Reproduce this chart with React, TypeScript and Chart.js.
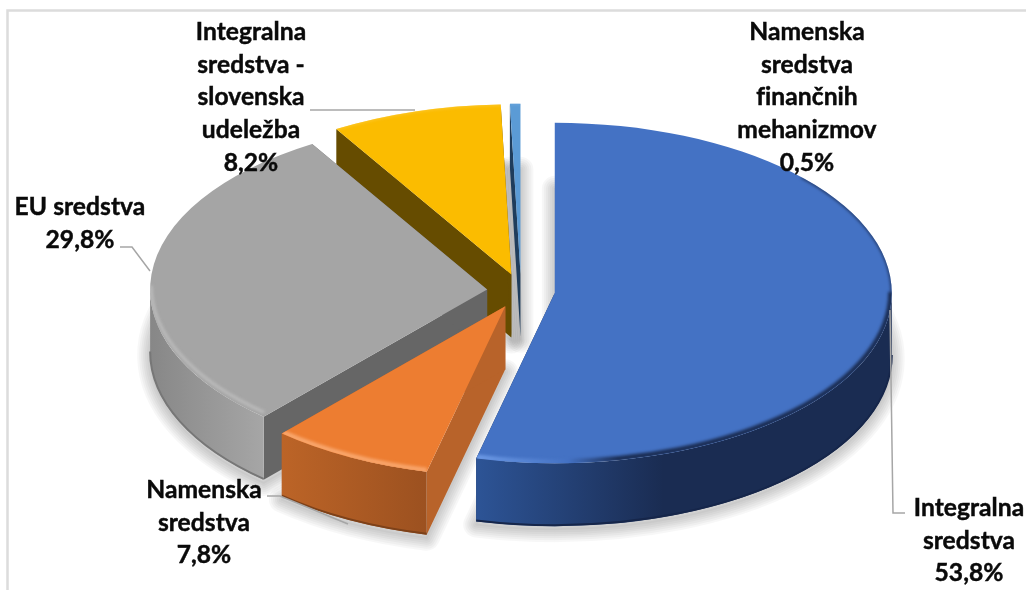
import React, { useEffect, useRef } from "react";
import { Chart, registerables } from "chart.js";

Chart.register(...registerables);

// ---- data ----
const categoryLines: string[][] = [
  ["Integralna", "sredstva"],
  ["Namenska", "sredstva"],
  ["EU sredstva"],
  ["Integralna", "sredstva -", "slovenska", "udeležba"],
  ["Namenska", "sredstva", "finančnih", "mehanizmov"],
];
const shares: number[] = [53.8, 7.8, 29.8, 8.2, 0.5];

// ---- styles ----
const topColors = ["#4472c4", "#ed7d31", "#a5a5a5", "#fbbc00", "#5b9bd5"];
const faceColors = ["#1a2c52", "#b8632a", "#666666", "#664c00", "#1f3d5c"];
const wallStops = [
  [[0, "#2d5496"], [0.45, "#1a2c52"], [1, "#1a2c52"]],
  [[0, "#bc6427"], [1, "#9c5120"]],
  [[0, "#878787"], [1, "#a6a6a6"]],
  [[0, "#664c00"], [1, "#664c00"]],
  [[0, "#1f3d5c"], [1, "#1f3d5c"]],
];
const rimStops = [
  [[0, "#6d9ae6"], [0.22, "#4472c4"], [0.34, "#1a2c52"], [1, "#1a2c52"]],
  [[0, "#f9a76d"], [1, "#f59a5e"]],
  [[0, "#bcbcbc"], [1, "#bcbcbc"]],
  [[0, "#fdc933"], [1, "#fdc933"]],
  [[0, "#6ba8df"], [1, "#6ba8df"]],
];
const bottomEdge = ["#16264a", "#7d4119", "#777777", "#664c00", "#1f3d5c"];

const TILT = 0.505;
const EXPLODE = 34;
const DEPTH = 63;
const RADIUS = 337;
const drawOrder = [4, 3, 2, 1, 0];
const shadowWidths = [26, 22, 18, 14, 10, 6, 2];

const labelFont = "bold 24.6px Lato";
const lineGap = 32.7;
const labelAnchors = [
  { x: 969, y: 508 },
  { x: 204, y: 490 },
  { x: 80, y: 207 },
  { x: 251, y: 32 },
  { x: 807, y: 32 },
];
const leaders: number[][][] = [
  [[890, 310], [893, 513], [905, 513]],
  [[267, 496], [280, 496], [348, 524]],
  [[120, 247], [132, 247], [150, 271]],
  [[310, 110], [415, 110]],
];

function gradient(ctx: CanvasRenderingContext2D, x0: number, x1: number, stops: any[]) {
  const g = ctx.createLinearGradient(x0, 0, x1, 0);
  stops.forEach(([o, c]) => g.addColorStop(o, c));
  return g;
}

const pie3d = {
  id: "pie3d",
  beforeDraw(chart: any) {
    const ctx: CanvasRenderingContext2D = chart.ctx;
    ctx.save();
    ctx.fillStyle = "#ffffff";
    ctx.fillRect(0, 0, chart.width, chart.height);
    ctx.strokeStyle = "#dcdcdc";
    ctx.lineWidth = 2.5;
    ctx.beginPath();
    ctx.moveTo(7.5, chart.height);
    ctx.lineTo(7.5, 10.5);
    ctx.lineTo(chart.width, 10.5);
    ctx.stroke();
    ctx.restore();
  },
  beforeDatasetsDraw(chart: any) {
    const ctx: CanvasRenderingContext2D = chart.ctx;
    const arcs = chart.getDatasetMeta(0).data;
    const geo = arcs.map((arc: any) => {
      const p = arc.getProps(["x", "y", "startAngle", "endAngle", "outerRadius"], true);
      const mid = (p.startAngle + p.endAngle) / 2;
      return {
        ...p,
        cx: p.x + Math.cos(mid) * EXPLODE,
        cy: p.y + Math.sin(mid) * EXPLODE * TILT,
        dx: Math.cos(mid) * EXPLODE,
        dy: Math.sin(mid) * EXPLODE,
        r: p.outerRadius,
      };
    });
    const sector = (g: any, shift: number) => {
      ctx.beginPath();
      ctx.moveTo(g.cx, g.cy + shift);
      ctx.ellipse(g.cx, g.cy + shift, g.r, g.r * TILT, 0, g.startAngle, g.endAngle);
      ctx.closePath();
    };
    const frontRange = (g: any): number[] | null => {
      const a0 = Math.max(g.startAngle, 0);
      const a1 = Math.min(g.endAngle, Math.PI);
      return a1 > a0 ? [a0, a1] : null;
    };
    // soft shadow cast by the underside of each slice, built from widening translucent outlines
    ctx.save();
    ctx.lineJoin = "round";
    ctx.strokeStyle = "rgba(0,0,0,0.03)";
    geo.forEach((g: any) => {
      shadowWidths.forEach((w) => {
        ctx.lineWidth = w;
        sector(g, DEPTH + 3);
        ctx.stroke();
      });
    });
    ctx.restore();

    drawOrder.forEach((i) => {
      const g = geo[i];
      const px = (a: number) => g.cx + g.r * Math.cos(a);
      const py = (a: number) => g.cy + g.r * TILT * Math.sin(a);
      const range = frontRange(g);

      // flat cut faces
      [g.startAngle, g.endAngle].forEach((a: number) => {
        ctx.beginPath();
        ctx.moveTo(g.cx, g.cy);
        ctx.lineTo(px(a), py(a));
        ctx.lineTo(px(a), py(a) + DEPTH);
        ctx.lineTo(g.cx, g.cy + DEPTH);
        ctx.closePath();
        ctx.fillStyle = faceColors[i];
        ctx.fill();
      });

      // outer wall
      if (range) {
        const [a0, a1] = range;
        const xs = [px(a0), px(a1)];
        const x0 = Math.min(...xs);
        const x1 = Math.max(...xs);
        ctx.beginPath();
        ctx.moveTo(px(a0), py(a0));
        ctx.ellipse(g.cx, g.cy, g.r, g.r * TILT, 0, a0, a1);
        ctx.lineTo(px(a1), py(a1) + DEPTH);
        ctx.ellipse(g.cx, g.cy + DEPTH, g.r, g.r * TILT, 0, a1, a0, true);
        ctx.closePath();
        ctx.fillStyle = gradient(ctx, x0, x1, wallStops[i]);
        ctx.fill();
        ctx.beginPath();
        ctx.ellipse(g.cx, g.cy + DEPTH - 1, g.r, g.r * TILT, 0, a0, a1);
        ctx.strokeStyle = bottomEdge[i];
        ctx.lineWidth = 2;
        ctx.stroke();
      }

      // top surface: the library's own arc, flattened and pulled out
      ctx.save();
      ctx.translate(g.x, g.y);
      ctx.scale(1, TILT);
      ctx.translate(-g.x + g.dx, -g.y + g.dy);
      arcs[i].draw(ctx, chart.chartArea);
      ctx.restore();

      // bevel along the rim of the top surface
      ctx.save();
      sector(g, 0);
      ctx.clip();
      ctx.filter = "blur(1.6px)";
      const x0 = i === 0 ? px(g.endAngle) : Math.min(px(g.startAngle), px(g.endAngle), g.cx);
      ctx.strokeStyle = gradient(ctx, x0, g.cx + g.r, rimStops[i]);
      if (range) {
        ctx.lineWidth = i === 2 ? 3 : 5;
        ctx.beginPath();
        ctx.ellipse(g.cx, g.cy - (i === 2 ? 4 : 1), g.r - 1, (g.r - 1) * TILT, 0, range[0], range[1]);
        ctx.stroke();
      }
      if (i === 0) {
        ctx.lineWidth = 2;
        ctx.beginPath();
        ctx.ellipse(g.cx, g.cy, g.r, g.r * TILT, 0, -0.75, 0);
        ctx.stroke();
      }
      if (i === 3 || i === 4) {
        ctx.lineWidth = 2;
        ctx.beginPath();
        ctx.ellipse(g.cx, g.cy, g.r, g.r * TILT, 0, g.startAngle, g.endAngle);
        ctx.stroke();
      }
      ctx.restore();
    });
    return false;
  },
  afterDraw(chart: any) {
    const ctx: CanvasRenderingContext2D = chart.ctx;
    ctx.save();
    ctx.strokeStyle = "#a6a6a6";
    ctx.lineWidth = 1.5;
    leaders.forEach((pts) => {
      ctx.beginPath();
      pts.forEach(([x, y], k) => (k ? ctx.lineTo(x, y) : ctx.moveTo(x, y)));
      ctx.stroke();
    });
    ctx.fillStyle = "#0a0a0a";
    ctx.strokeStyle = "#0a0a0a";
    ctx.lineWidth = 0.45;
    ctx.font = labelFont;
    (ctx as any).letterSpacing = "0.05px";
    ctx.textAlign = "center";
    ctx.textBaseline = "middle";
    shares.forEach((v, i) => {
      const lines = [...categoryLines[i], v.toFixed(1).replace(".", ",") + "%"];
      lines.forEach((t, k) => {
        ctx.fillText(t, labelAnchors[i].x, labelAnchors[i].y + k * lineGap);
        ctx.strokeText(t, labelAnchors[i].x, labelAnchors[i].y + k * lineGap);
      });
    });
    ctx.restore();
  },
};

export default function App() {
  const ref = useRef<HTMLCanvasElement>(null);
  useEffect(() => {
    document.body.style.margin = "0";
    const chart = new Chart(ref.current as HTMLCanvasElement, {
      type: "pie",
      data: {
        labels: categoryLines.map((l) => l.join(" ")),
        datasets: [{ data: shares, backgroundColor: topColors, borderWidth: 0 }],
      },
      options: {
        responsive: false,
        animation: false,
        radius: RADIUS,
        layout: { padding: { left: 16, bottom: 8 } },
        plugins: { legend: { display: false }, tooltip: { enabled: false } },
      },
      plugins: [pie3d],
    } as any);
    return () => chart.destroy();
  }, []);
  return (
    <div style={{ width: 1026, height: 590, overflow: "hidden" }}>
      <canvas ref={ref} width={1026} height={590} style={{ display: "block" }} />
    </div>
  );
}
